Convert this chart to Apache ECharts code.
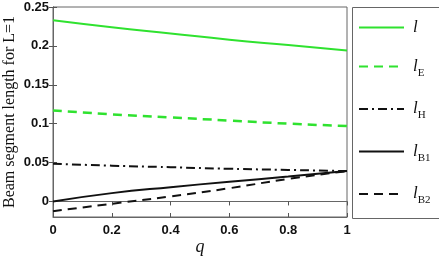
<!DOCTYPE html>
<html>
<head>
<meta charset="utf-8">
<script src="https://cdn.jsdelivr.net/npm/echarts@6/dist/echarts.min.js"></script>
<style>
  html, body { margin: 0; padding: 0; background: #fff; }
  #chart { width: 439px; height: 256px; }
</style>
</head>
<body>
<div id="chart"></div>
<script>
var qValues = [0, 0.2, 0.4, 0.6, 0.8, 1];
var lTotal = [0.233, 0.224, 0.216, 0.208, 0.201, 0.194];
var lE = [0.117, 0.112, 0.108, 0.104, 0.100, 0.097];
var lH = [0.0485, 0.046, 0.044, 0.042, 0.0405, 0.039];
var lB1 = [0.000, 0.0107, 0.0184, 0.0253, 0.032, 0.039];
var lB2 = [-0.0125, -0.003, 0.0064, 0.017, 0.029, 0.039];
var yTicks = [0, 0.05, 0.1, 0.15, 0.2, 0.25];

var green = '#2fe22f';

function pairs(ys) {
    return qValues.map(function (q, i) { return [q, ys[i]]; });
}

function fmt(v) {
    return String(+v.toFixed(2));
}

var chart = echarts.init(document.getElementById('chart'));

var option = {
    animation: false,
    backgroundColor: '#fff',
    grid: {
        left: 53,
        right: 92,
        top: 7,
        bottom: 39,
        outerBoundsMode: 'none',
        containLabel: false,
        show: true,
        borderColor: '#666',
        borderWidth: 1
    },
    legend: {
        orient: 'vertical',
        left: 358,
        top: 19,
        itemWidth: 45,
        itemHeight: 14,
        itemGap: 22,
        padding: 0,
        itemStyle: {opacity: 0},
        formatter: function (name) {
            var parts = name.split('_');
            return parts.length > 1 ? '{i|' + parts[0] + '}{s|' + parts[1] + '}' : '{i|' + parts[0] + '}';
        },
        textStyle: {
            padding: [0, 0, 0, 4],
            rich: {
                i: {fontFamily: 'Liberation Serif', fontStyle: 'italic', fontSize: 17, color: '#111', lineHeight: 24},
                s: {fontFamily: 'Liberation Serif', fontSize: 11, color: '#111', verticalAlign: 'bottom', lineHeight: 12}
            }
        },
        data: ['l', 'l_E', 'l_H', 'l_B1', 'l_B2']
    },
    graphic: [{
        type: 'rect',
        left: 350,
        top: 5,
        shape: {width: 87, height: 211},
        style: {fill: 'none', stroke: '#666', lineWidth: 1},
        silent: true
    }],
    xAxis: [{
        type: 'value',
        min: 0,
        max: 1,
        interval: 0.2,
        name: 'q',
        nameLocation: 'middle',
        nameMoveOverlap: false,
        nameGap: 21,
        nameTextStyle: {fontFamily: 'Liberation Serif', fontStyle: 'italic', fontSize: 18, color: '#111'},
        axisLine: {show: true, onZero: false, lineStyle: {color: '#666'}},
        axisTick: {show: true, inside: true, length: 4, lineStyle: {color: '#555'}},
        axisLabel: {
            color: '#111',
            fontFamily: 'Liberation Sans',
            fontWeight: 'bold',
            fontSize: 13,
            margin: 7,
            formatter: fmt
        },
        splitLine: {show: false}
    }, {
        type: 'value',
        position: 'top',
        min: 0,
        max: 1,
        interval: 0.2,
        axisLine: {show: true, lineStyle: {color: '#666'}},
        axisTick: {show: true, inside: true, length: 4, lineStyle: {color: '#555'}},
        axisLabel: {show: false},
        splitLine: {show: false}
    }],
    yAxis: [{
        type: 'value',
        min: -0.02,
        max: 0.25,
        name: 'Beam segment length for L=1',
        nameLocation: 'middle',
        nameMoveOverlap: false,
        nameRotate: 90,
        nameGap: 35,
        nameTextStyle: {fontFamily: 'Liberation Serif', fontSize: 16, color: '#111'},
        axisLine: {show: true, onZero: false, lineStyle: {color: '#666'}},
        axisTick: {show: true, inside: true, length: 4, customValues: yTicks, lineStyle: {color: '#555'}},
        axisLabel: {
            color: '#111',
            fontFamily: 'Liberation Sans',
            fontWeight: 'bold',
            fontSize: 13,
            margin: 4,
            customValues: yTicks,
            formatter: fmt
        },
        splitLine: {show: false}
    }, {
        type: 'value',
        position: 'right',
        min: -0.02,
        max: 0.25,
        axisLine: {show: true, lineStyle: {color: '#666'}},
        axisTick: {show: true, inside: true, length: 4, customValues: yTicks, lineStyle: {color: '#555'}},
        axisLabel: {show: false},
        splitLine: {show: false}
    }],
    series: [
        {name: 'l', type: 'line', smooth: true, showSymbol: false, symbol: 'none',
            lineStyle: {color: green, width: 2}, itemStyle: {color: green}, data: pairs(lTotal)},
        {name: 'l_E', type: 'line', smooth: true, showSymbol: false, symbol: 'none',
            lineStyle: {color: green, width: 2.5, type: [9, 6]}, itemStyle: {color: green}, data: pairs(lE)},
        {name: 'l_H', type: 'line', smooth: true, showSymbol: false, symbol: 'none',
            lineStyle: {color: '#111', width: 2, type: [9, 4, 2, 4]}, itemStyle: {color: '#111'}, data: pairs(lH)},
        {name: 'l_B1', type: 'line', smooth: true, showSymbol: false, symbol: 'none',
            lineStyle: {color: '#111', width: 2}, itemStyle: {color: '#111'}, data: pairs(lB1)},
        {name: 'l_B2', type: 'line', smooth: true, showSymbol: false, symbol: 'none',
            lineStyle: {color: '#111', width: 2, type: [9, 6]}, itemStyle: {color: '#111'}, data: pairs(lB2)}
    ]
};

chart.setOption(option);
</script>
</body>
</html>
